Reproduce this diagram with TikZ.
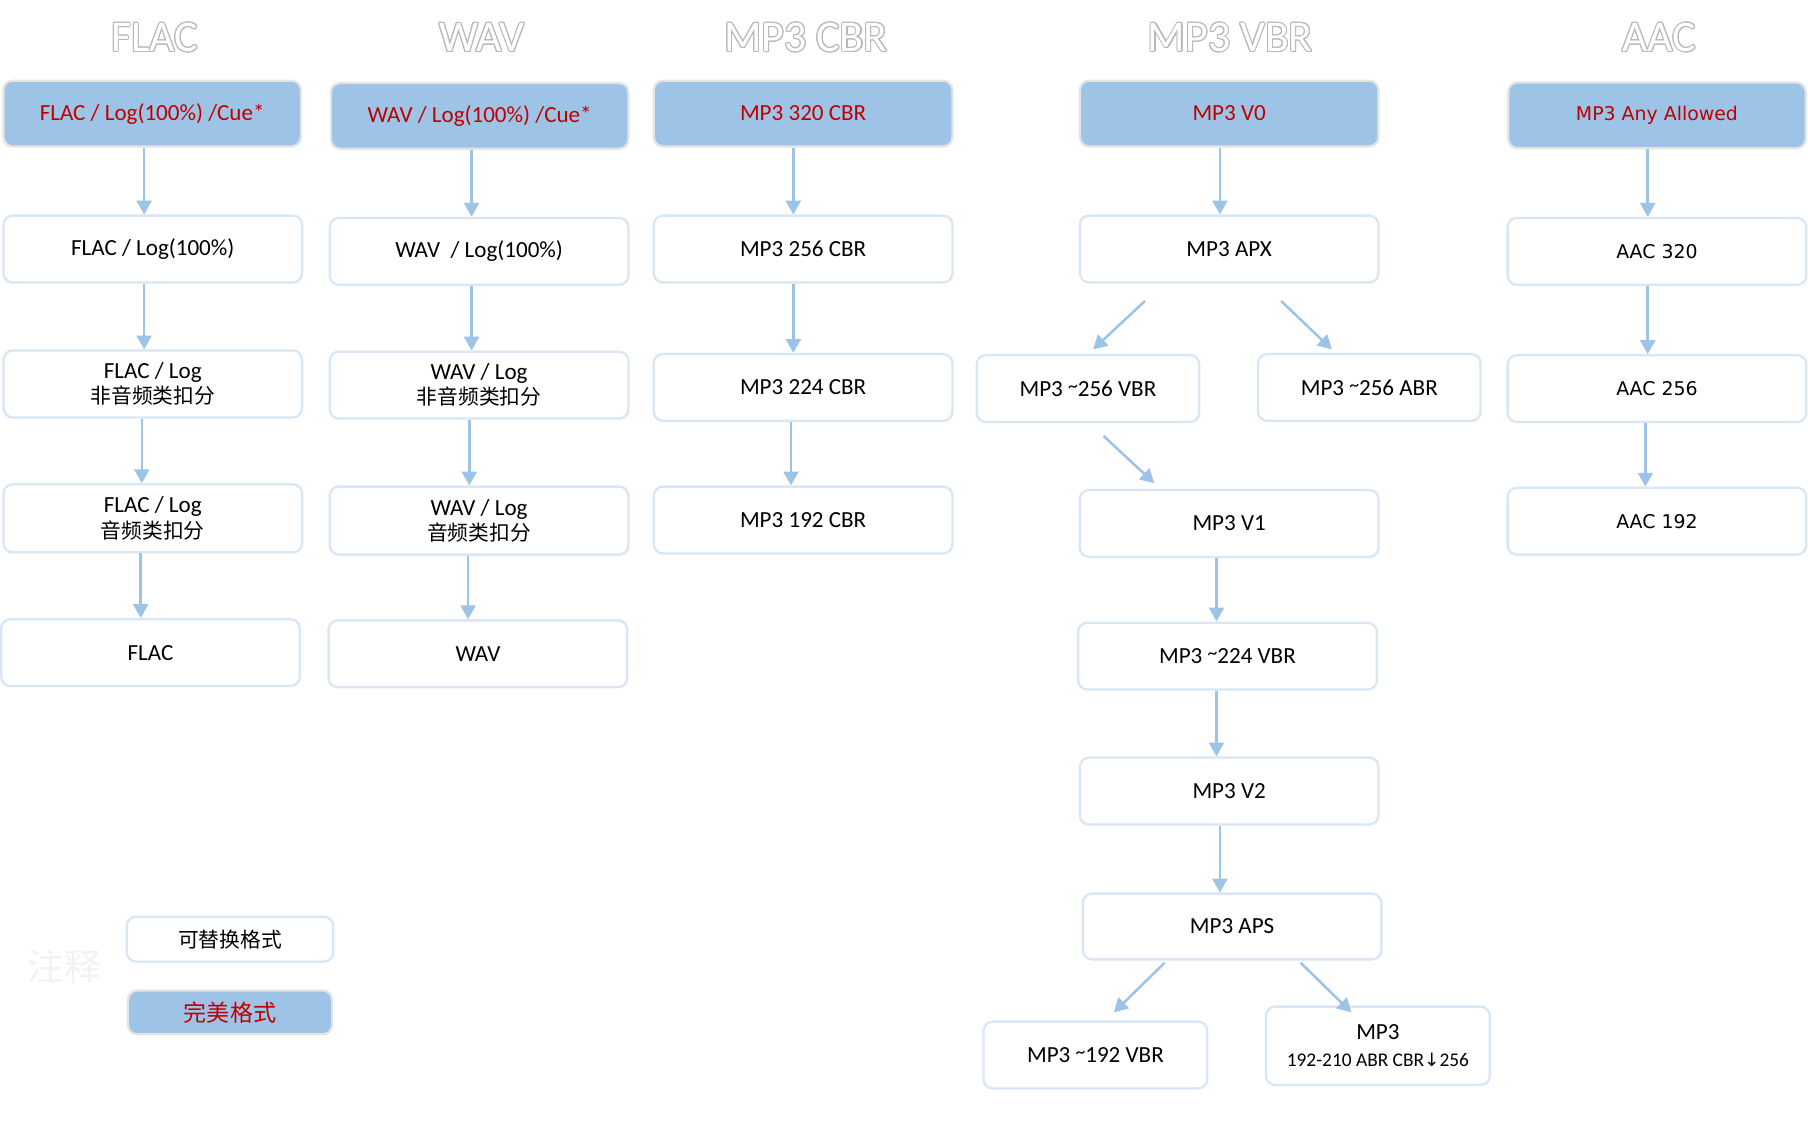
\documentclass[tikz,border=0pt]{standalone}
\usepackage{fontspec}
\setmainfont{Carlito}
\newfontfamily\cjk{Noto Sans CJK SC}
\newfontfamily\dvs{DejaVu Sans}
\usepackage{contour}
\contourlength{0.45pt}
\usetikzlibrary{arrows.meta,calc}
\definecolor{boxblue}{HTML}{9DC3E6}
\definecolor{boxedge}{HTML}{D9E6F5}
\definecolor{blueedge}{HTML}{E4E4E4}
\definecolor{redtxt}{HTML}{C00000}
\definecolor{arrowc}{HTML}{9DC3E6}
\definecolor{titlegray}{HTML}{B8B8B8}
\definecolor{notegray}{HTML}{F2F2F2}
\newcommand{\hitilde}{\raisebox{0.35ex}{\fontsize{8.5}{9}\selectfont\textasciitilde}}
\begin{document}
\begin{tikzpicture}[x=0.5pt,y=-0.5pt,
  box/.style={draw=boxedge, line width=1pt, rounded corners=4pt, fill=white,
    minimum width=129.5pt, minimum height=29pt, inner sep=0pt, align=center,
    font=\fontsize{10}{11}\selectfont},
  narrow/.style={box, minimum width=96.5pt},
  topbox/.style={box, draw=blueedge, fill=boxblue, text=redtxt},
  aacfont/.style={font=\dvs\fontsize{8.2}{9}\selectfont},
  title/.style={text=white, font=\fontsize{19}{21}\selectfont, inner sep=0pt},
  arr/.style={draw=arrowc, line width=1.1pt, -{Triangle[length=6pt,width=6.5pt]}},
  cjkt/.style={font=\cjk\fontsize{9}{11}\selectfont}
]
\useasboundingbox (0,0) rectangle (1568,995.6);

% titles
\node[title] (tF) at (134,33) {\contour{titlegray}{FLAC}};
\node[title] (tW) at (418,33) {\contour{titlegray}{WAV}};
\node[title] (tC) at (699,33) {\contour{titlegray}{MP3 CBR}};
\node[title] (tV) at (1067,33) {\contour{titlegray}{MP3 VBR}};
\node[title] (tA) at (1439,33) {\contour{titlegray}{AAC}};

% FLAC column
\node[topbox, minimum width=129pt, minimum height=28.5pt] (F1) at (132,98.5) {FLAC / Log(100\%) /Cue*};
\node[box] (F2) at (132.5,216) {FLAC / Log(100\%)};
\node[box] (F3) at (132.5,333) {FLAC / Log\\{\cjk\fontsize{9}{11}\selectfont 非音频类扣分}};
\node[box, minimum height=29.5pt] (F4) at (132.5,449.5) {FLAC / Log\\{\cjk\fontsize{9}{11}\selectfont 音频类扣分}};
\node[box] (F5) at (130.5,566) {FLAC};

% WAV column
\node[topbox, minimum width=129pt, minimum height=28.5pt] (W1) at (416,100.5) {WAV / Log(100\%) /Cue*};
\node[box] (W2) at (415.5,218) {WAV\ \ / Log(100\%)};
\node[box] (W3) at (415.5,334) {WAV / Log\\{\cjk\fontsize{9}{11}\selectfont 非音频类扣分}};
\node[box, minimum height=29.5pt] (W4) at (415.5,451.5) {WAV / Log\\{\cjk\fontsize{9}{11}\selectfont 音频类扣分}};
\node[box] (W5) at (414.5,567) {WAV};

% MP3 CBR column
\node[topbox, minimum height=28.5pt] (C1) at (696.5,98.5) {MP3 320 CBR};
\node[box] (C2) at (696.5,216) {MP3 256 CBR};
\node[box] (C3) at (696.5,336) {MP3 224 CBR};
\node[box] (C4) at (696.5,451) {MP3 192 CBR};

% MP3 VBR column
\node[topbox, minimum height=28.5pt] (V0) at (1066,98.5) {MP3 V0};
\node[box] (APX) at (1066,216) {MP3 APX};
\node[narrow] (VBR256) at (943.5,337) {MP3 \hitilde256 VBR};
\node[narrow] (ABR256) at (1187.5,336) {MP3 \hitilde256 ABR};
\node[box] (V1) at (1066,454) {MP3 V1};
\node[box] (VBR224) at (1064.5,569) {MP3 \hitilde224 VBR};
\node[box] (V2) at (1066,686) {MP3 V2};
\node[box, minimum height=28.5pt] (APS) at (1068.5,803.5) {MP3 APS};
\node[narrow, minimum width=97pt] (VBR192) at (950,915) {MP3 \hitilde192 VBR};
\node[narrow, minimum width=97pt, minimum height=34pt] (MIX) at (1195,907)
  {MP3\\[0.5pt]{\fontsize{8.4}{10}\selectfont 192-210 ABR CBR{\dvs\fontsize{8}{10}\selectfont ↓}256}};

% AAC column
\node[topbox, minimum width=129pt, minimum height=28.5pt, aacfont] (A1) at (1437,100) {MP3 Any Allowed};
\node[box, aacfont] (A2) at (1437,218) {AAC 320};
\node[box, aacfont] (A3) at (1437,337) {AAC 256};
\node[box, aacfont] (A4) at (1437,452) {AAC 192};

% legend
\node[cjkt, font=\cjk\fontsize{16}{18}\selectfont, text=notegray] (note) at (56,838) {注释};
\node[box, minimum width=89.5pt, minimum height=19.5pt, cjkt] (L1) at (199.5,814.5) {可替换格式};
\node[topbox, minimum width=88.5pt, minimum height=19pt, font=\cjk\fontsize{10}{12}\selectfont] (L2) at (199.5,878) {完美格式};

% vertical arrows
\draw[arr] ([xshift=-3.5pt]F1.south) -- ([xshift=-3.5pt]F1.south |- F2.north);
\draw[arr] ([xshift=-3.75pt]F2.south) -- ([xshift=-3.75pt]F2.south |- F3.north);
\draw[arr] ([xshift=-4.75pt]F3.south) -- ([xshift=-4.75pt]F3.south |- F4.north);
\draw[arr] ([xshift=-5.25pt]F4.south) -- ([xshift=-5.25pt]F4.south |- F5.north);

\draw[arr] ([xshift=-3.5pt]W1.south) -- ([xshift=-3.5pt]W1.south |- W2.north);
\draw[arr] ([xshift=-3.25pt]W2.south) -- ([xshift=-3.25pt]W2.south |- W3.north);
\draw[arr] ([xshift=-4.25pt]W3.south) -- ([xshift=-4.25pt]W3.south |- W4.north);
\draw[arr] ([xshift=-4.75pt]W4.south) -- ([xshift=-4.75pt]W4.south |- W5.north);

\draw[arr] ([xshift=-4.25pt]C1.south) -- ([xshift=-4.25pt]C1.south |- C2.north);
\draw[arr] ([xshift=-4.25pt]C2.south) -- ([xshift=-4.25pt]C2.south |- C3.north);
\draw[arr] ([xshift=-5.25pt]C3.south) -- ([xshift=-5.25pt]C3.south |- C4.north);

\draw[arr] ([xshift=-4pt]V0.south) -- ([xshift=-4pt]V0.south |- APX.north);
\draw[arr] ([xshift=-5.5pt]V1.south) -- ([xshift=-5.5pt]V1.south |- VBR224.north);
\draw[arr] ([xshift=-4.75pt]VBR224.south) -- ([xshift=-4.75pt]VBR224.south |- V2.north);
\draw[arr] ([xshift=-4pt]V2.south) -- ([xshift=-4pt]V2.south |- APS.north);

\draw[arr] ([xshift=-4pt]A1.south) -- ([xshift=-4pt]A1.south |- A2.north);
\draw[arr] ([xshift=-4pt]A2.south) -- ([xshift=-4pt]A2.south |- A3.north);
\draw[arr] ([xshift=-5pt]A3.south) -- ([xshift=-5pt]A3.south |- A4.north);

% diagonal arrows
\draw[arr] ($(APX.south)+(-73,15)$) -- ($(VBR256.north)+(4.5,-4)$);
\draw[arr] ($(APX.south)+(45,15)$) -- ($(ABR256.north)+(-32.5,-3)$);
\draw[arr] ($(VBR256.south)+(13.5,11)$) -- ($(V1.north)+(-65,-5)$);
\draw[arr] ($(APS.south)+(-58.5,2)$) -- ($(VBR192.north)+(16,-7)$);
\draw[arr] ($(APS.south)+(59.5,2)$) -- ($(MIX.north)+(-23,6)$);
\end{tikzpicture}
\end{document}
